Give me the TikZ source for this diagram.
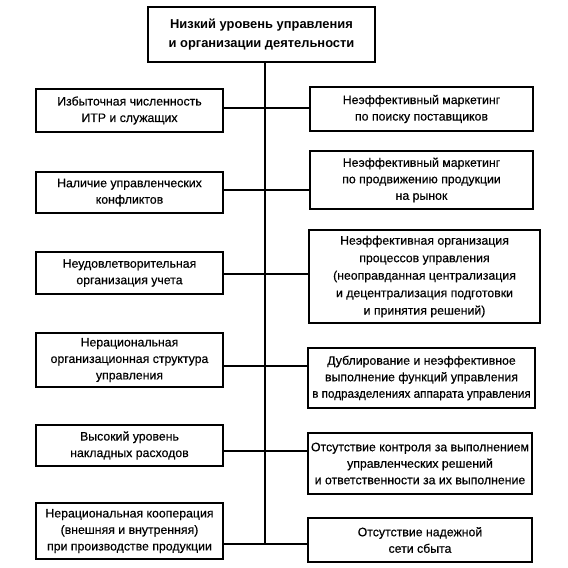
\documentclass[tikz,border=0pt]{standalone}
\usepackage{fontspec}
\setmainfont{Liberation Sans}
\newfontfamily\heavyfont[FakeBold=0.35]{Liberation Sans}
\begin{document}
\begin{tikzpicture}[x=1pt,y=-1pt,
  box/.style={draw, line width=1.2pt, inner sep=1pt, align=center,
    font=\heavyfont\fontsize{12.3}{16.5}\selectfont},
  conn/.style={line width=1.2pt}]
\useasboundingbox (0,0) rectangle (568,568);
\fill[white] (0,0) rectangle (568,568);
% top
\node[box, line width=1.5pt, minimum width=227pt, minimum height=55pt,
  font=\bfseries\fontsize{12.9}{19}\selectfont] (top) at (261.5,34.5)
  {Низкий уровень управления\\и организации деятельности};
% left column
\node[box, minimum width=187pt, minimum height=43pt] (L1) at (129.5,110.5)
  {Избыточная численность\\ИТР и служащих};
\node[box, minimum width=187pt, minimum height=41pt] (L2) at (129.5,192.5)
  {Наличие управленческих\\конфликтов};
\node[box, minimum width=187pt, minimum height=42pt] (L3) at (129.5,273)
  {Неудовлетворительная\\организация учета};
\node[box, minimum width=187pt, minimum height=54pt] (L4) at (129.5,360)
  {Нерациональная\\организационная структура\\управления};
\node[box, minimum width=187pt, minimum height=41pt] (L5) at (129.5,445.5)
  {Высокий уровень\\накладных расходов};
\node[box, minimum width=187pt, minimum height=56pt] (L6) at (129.5,531)
  {Нерациональная кооперация\\(внешняя и внутренняя)\\при производстве продукции};
% right column
\node[box, minimum width=223pt, minimum height=44pt] (R1) at (421.5,109)
  {Неэффективный маркетинг\\по поиску поставщиков};
\node[box, minimum width=223pt, minimum height=58pt] (R2) at (421.5,180)
  {Неэффективный маркетинг\\по продвижению продукции\\на рынок};
\node[box, minimum width=231pt, minimum height=93pt,
  font=\heavyfont\fontsize{12.3}{17.5}\selectfont] (R3) at (424.5,276.5)
  {Неэффективная организация\\процессов управления\\(неоправданная централизация\\и децентрализация подготовки\\и принятия решений)};
\node[box, minimum width=227pt, minimum height=60pt] (R4) at (421.5,378)
  {Дублирование и неэффективное\\выполнение функций управления\\\scalebox{0.95}[1]{в подразделениях аппарата управления}};
\node[box, minimum width=224pt, minimum height=61pt] (R5) at (420,463.5)
  {Отсутствие контроля за выполнением\\управленческих решений\\и ответственности за их выполнение};
\node[box, minimum width=224pt, minimum height=44pt] (R6) at (420,540)
  {Отсутствие надежной\\сети сбыта};
% junctions on trunk
\coordinate (j1) at (265,108);
\coordinate (j2) at (265,190);
\coordinate (j3) at (265,274);
\coordinate (j4) at (265,366);
\coordinate (j5) at (265,451);
\coordinate (j6) at (265,544);
% trunk
\draw[conn] (top.south -| j6) -- (j6);
% connectors
\draw[conn] (L1.east |- j1) -- (R1.west |- j1);
\draw[conn] (L2.east |- j2) -- (R2.west |- j2);
\draw[conn] (L3.east |- j3) -- (R3.west |- j3);
\draw[conn] (L4.east |- j4) -- (R4.west |- j4);
\draw[conn] (L5.east |- j5) -- (R5.west |- j5);
\draw[conn] (L6.east |- j6) -- (R6.west |- j6);
\end{tikzpicture}
\end{document}
